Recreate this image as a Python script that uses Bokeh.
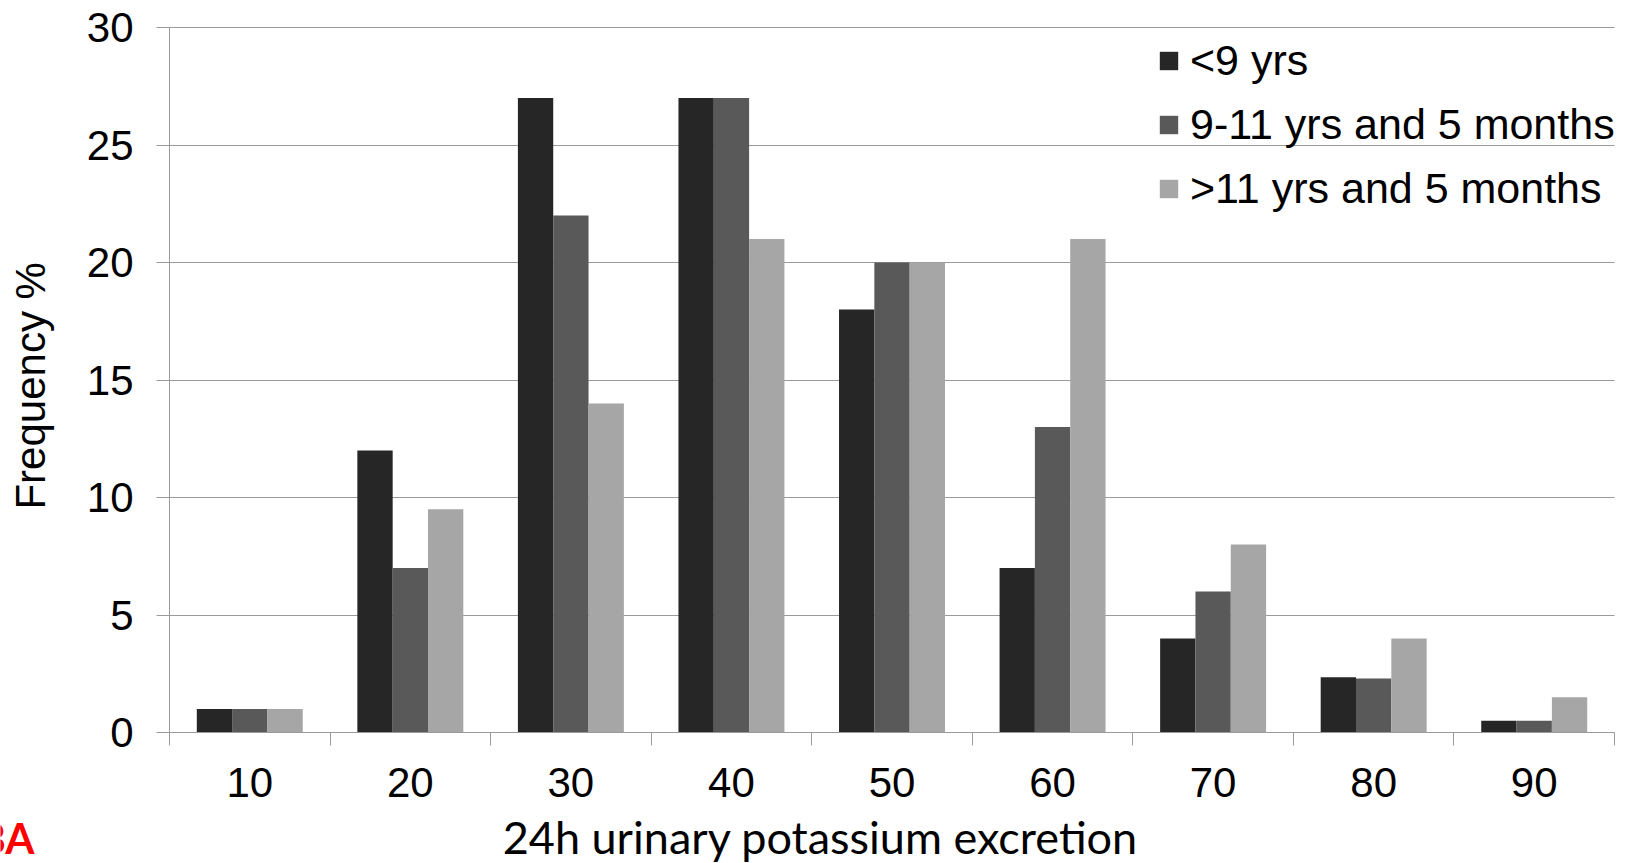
from bokeh.plotting import figure
from bokeh.models import Range1d, FixedTicker, ColumnDataSource, Legend, LegendItem, Label
from bokeh.transform import dodge
from bokeh.embed import file_html
from bokeh.resources import INLINE

# ---- data ----
categories = ["10", "20", "30", "40", "50", "60", "70", "80", "90"]
series_names = ["<9 yrs", "9-11 yrs and 5 months", ">11 yrs and 5 months"]
under_9 = [1, 12, 27, 27, 18, 7, 4, 2.35, 0.5]
from_9_to_11 = [1, 7, 22, 27, 20, 13, 6, 2.3, 0.5]
over_11 = [1, 9.5, 14, 21, 20, 21, 8, 4, 1.5]
y_ticks = [0, 5, 10, 15, 20, 25, 30]
x_title = "24h urinary potassium excretion"
y_title = "Frequency  %"
corner_text = "BA"

colors = ["#262626", "#595959", "#a6a6a6"]
axis_gray = "#9a9a9a"
bar_w = 0.22

# ---- layout geometry (pixels on the canvas) ----
W, H = 1622, 863
AX_LEFT, AX_RIGHT, AX_TOP, AX_BOTTOM = 169, 1614, 27, 732
n = len(categories)
y_max = y_ticks[-1]
px_x = (AX_RIGHT - AX_LEFT) / n
px_y = (AX_BOTTOM - AX_TOP) / y_max
x_lo = -AX_LEFT / px_x
x_hi = n + (W - AX_RIGHT) / px_x
y_lo = -(H - AX_BOTTOM) / px_y
y_hi = y_max + AX_TOP / px_y

def dx(px):
    return (px - AX_LEFT) / px_x

def dy(py):
    return (AX_BOTTOM - py) / px_y

centers = [i + 0.5 for i in range(n)]
boundaries = list(range(n + 1))
source = ColumnDataSource(dict(x=centers, s0=under_9, s1=from_9_to_11, s2=over_11))

p = figure(width=W, height=H,
           x_range=Range1d(x_lo, x_hi), y_range=Range1d(y_lo, y_hi),
           output_backend="svg", toolbar_location=None,
           min_border_left=0, min_border_right=0,
           min_border_top=0, min_border_bottom=0)
p.outline_line_color = None
p.background_fill_color = "white"
p.border_fill_color = "white"

# horizontal grid lines, limited to the plotting area
p.xgrid.grid_line_color = None
g = p.ygrid[0]
g.ticker = FixedTicker(ticks=y_ticks)
if "cross_bounds" in g.properties():
    g.grid_line_color = axis_gray
    g.grid_line_width = 1
    g.cross_bounds = (0, n)
else:
    g.grid_line_color = None
    p.segment(x0=0, x1=n, y0=y_ticks, y1=y_ticks, line_color=axis_gray,
              line_width=1, level="underlay")

renderers = []
for k, col in enumerate(["s0", "s1", "s2"]):
    r = p.vbar(x=dodge("x", (k - 1) * bar_w, range=p.x_range), top=col, width=bar_w,
               bottom=0, source=source, fill_color=colors[k], line_color=None)
    renderers.append(r)

# x axis (sits on y = 0)
xa = p.xaxis[0]
xa.fixed_location = 0
xa.bounds = (0, n)
xa.ticker = FixedTicker(ticks=centers, minor_ticks=boundaries)
xa.major_label_overrides = {c: lab for c, lab in zip(centers, categories)}
xa.major_tick_out = 0
xa.major_tick_in = 0
xa.minor_tick_out = 13
xa.minor_tick_in = 0
xa.minor_tick_line_color = axis_gray
xa.axis_line_color = axis_gray
xa.major_label_text_font = "Liberation Sans"
xa.major_label_text_font_size = "42px"
xa.major_label_text_color = "black"
xa.major_label_standoff = 22

# y axis (sits on x = 0)
ya = p.yaxis[0]
ya.fixed_location = 0
ya.bounds = (0, y_max)
ya.ticker = FixedTicker(ticks=y_ticks)
ya.major_tick_out = 13
ya.major_tick_in = 0
ya.major_tick_line_color = axis_gray
ya.minor_tick_line_color = None
ya.axis_line_color = axis_gray
ya.major_label_text_font = "Liberation Sans"
ya.major_label_text_font_size = "42px"
ya.major_label_text_color = "black"
ya.major_label_standoff = 23
ya.axis_label = y_title
ya.axis_label_text_font = "Liberation Sans"
ya.axis_label_text_font_size = "42px"
ya.axis_label_text_font_style = "normal"
ya.axis_label_text_color = "black"
ya.axis_label_standoff = 30

# legend
legend = Legend(items=[LegendItem(label=nm, renderers=[r]) for nm, r in zip(series_names, renderers)],
                location=(1157, H - 213), orientation="vertical",
                background_fill_alpha=0, border_line_color=None,
                padding=0, margin=0, spacing=14,
                glyph_width=23, glyph_height=23, label_height=50,
                label_standoff=10,
                label_text_font="Liberation Sans", label_text_font_size="43px",
                label_text_color="black")
p.add_layout(legend)

# x title and the red corner mark
p.add_layout(Label(x=dx(820), y=dy(836), text=x_title, text_align="center",
                   text_baseline="alphabetic", text_font="Lato",
                   text_font_size="45px", text_color="black"))
p.add_layout(Label(x=dx(34), y=dy(837), text=corner_text, text_align="right",
                   text_baseline="alphabetic", text_font="Lato",
                   text_font_style="bold", text_font_size="42px", text_color="#ff0000"))

open("out.html", "w").write(file_html(p, INLINE))
